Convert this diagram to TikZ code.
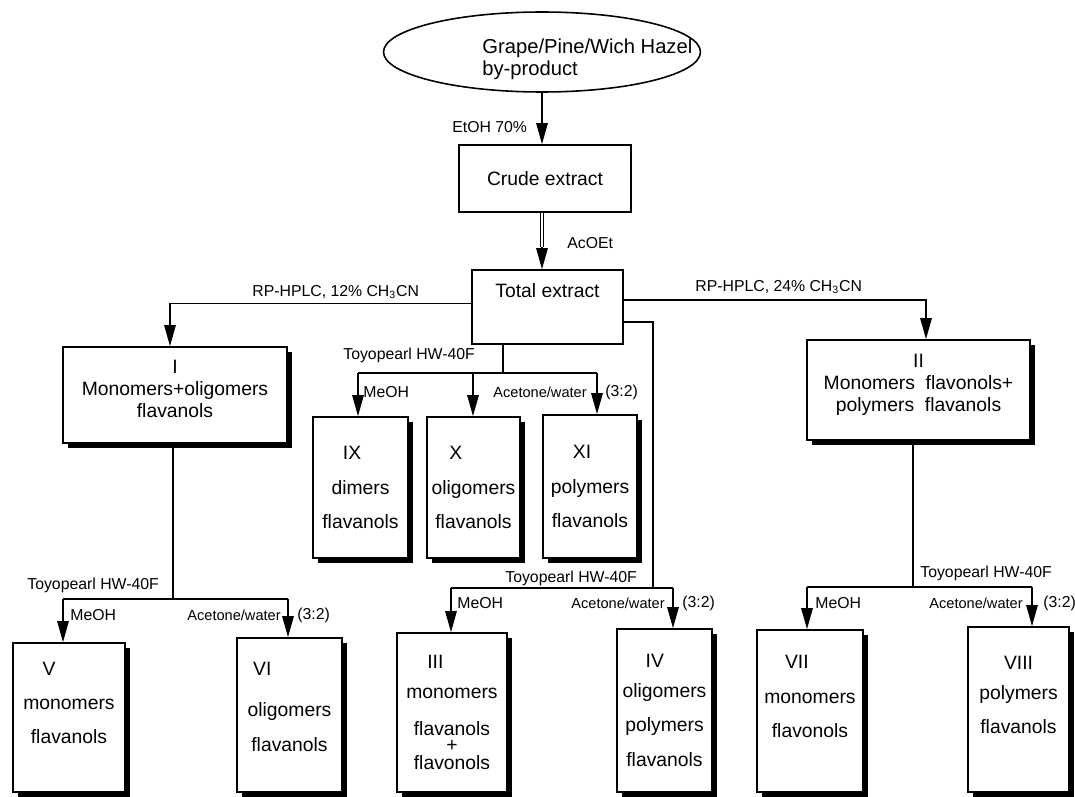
\documentclass[tikz,border=0pt]{standalone}
\usepackage{fontspec}
\setmainfont{Liberation Sans}
\usetikzlibrary{arrows.meta,shadows,shapes.geometric}
\tikzset{
	link/.style={line width=0.9pt},
	flow/.style={line width=0.9pt, -{Triangle[length=12pt,width=6.5pt]}},
	plainbox/.style={draw, line width=0.9pt, fill=white, align=center, inner sep=2pt, font=\fontsize{11}{12.5}\selectfont},
	shadbox/.style={plainbox, drop shadow={shadow xshift=3pt, shadow yshift=-3pt, fill=black, opacity=1}},
	tallbox/.style={shadbox, font=\fontsize{11}{19.5}\selectfont},
	cond/.style={inner sep=0pt, font=\fontsize{9}{10}\selectfont},
	condsm/.style={inner sep=0pt, font=\fontsize{8.3}{10}\selectfont}
}
\newcommand{\numshift}[2]{\hbox{#1\kern#2}}

\begin{document}
\begin{tikzpicture}[x=0.02cm, y=-0.02cm]
			%%%%% START %%%%%
			\useasboundingbox (0,0) rectangle (1075,797);

			% source and first extracts
			\node[ellipse, draw, line width=0.9pt, minimum width=6.34cm, minimum height=1.6cm, inner sep=0pt] (src) at (542,52) {};
			\node[anchor=west, align=left, inner sep=0pt, font=\fontsize{11.5}{12.5}\selectfont] (srctext) at (482,59) {Grape/Pine/Wich Hazel\\by-product};
			\node[plainbox, minimum width=3.44cm, minimum height=1.34cm] (crude) at (545,178.5) {Crude extract};
			\node[plainbox, minimum width=3.02cm, minimum height=1.48cm] (total) at (547.5,307) {Total extract\\[6pt]\mbox{}};

			% fractions
			\node[shadbox, minimum width=4.48cm, minimum height=1.92cm] (I) at (175,395) {I\\Monomers+oligomers\\flavanols\\[-5pt]\mbox{}};
			\node[shadbox, minimum width=4.46cm, minimum height=2.0cm] (II) at (918.5,390) {II\\Monomers~~flavonols+\\polymers~~flavanols\\[-4pt]\mbox{}};

			\node[tallbox, minimum width=1.9cm, minimum height=2.82cm] (IX) at (360.5,487.5) {\numshift{IX}{9.6pt}\\dimers\\flavanols};
			\node[tallbox, minimum width=1.86cm, minimum height=2.82cm] (X) at (473.5,487.5) {\numshift{X}{20pt}\\oligomers\\flavanols};
			\node[tallbox, minimum width=1.88cm, minimum height=2.86cm] (XI) at (590,486.5) {\numshift{XI}{9pt}\\polymers\\flavanols};

			\node[tallbox, minimum width=2.24cm, minimum height=2.98cm] (V) at (69,717.5) {\numshift{V}{22.7pt}\\monomers\\flavanols\\[-3pt]\mbox{}};
			\node[tallbox, minimum width=2.1cm, minimum height=3.08cm] (VI) at (289.5,715) {\numshift{VI}{31pt}\\[4pt]oligomers\\flavanols\\[-10pt]\mbox{}};
			\node[tallbox, minimum width=2.2cm, minimum height=3.18cm] (III) at (452,712.5) {\numshift{III}{19pt}\\[-2.5pt]monomers\\[1.5pt]flavanols\\[-10pt]+\\[-9.3pt]flavonols};
			\node[tallbox, minimum width=1.9cm, minimum height=3.26cm] (IV) at (664.5,710.5) {\numshift{IV}{11pt}\\[-2.5pt]oligomers\\polymers\\flavanols};
			\node[tallbox, minimum width=2.12cm, minimum height=3.24cm] (VII) at (810,711) {\numshift{VII}{15pt}\\monomers\\flavonols\\[-3pt]\mbox{}};
			\node[tallbox, minimum width=2.02cm, minimum height=3.3cm] (VIII) at (1018.5,709.5) {VIII\\[-2.5pt]polymers\\flavanols\\[-3pt]\mbox{}};

			% extraction steps
			\coordinate (ac) at (542,247);
			\draw[flow] (src.south) -- (src.south |- crude.north);
			\node[cond, anchor=west] (etoh) at (452,127) {EtOH 70\%};
			\draw[double, double distance=1.3pt, line width=0.7pt] (ac |- crude.south) -- (ac);
			\draw[flow] (ac) -- (ac |- total.north);
			\node[cond, anchor=west] (acoet) at (567,243) {AcOEt};

			% RP-HPLC
			\coordinate (c1) at (170,303);
			\coordinate (c2) at (926,300);
			\draw[flow] ([yshift=2pt]total.west) -| (c1 |- I.north);
			\draw[flow] ([yshift=4pt]total.east) -| (c2 |- II.north);
			\node[cond, anchor=west] (rp12) at (252,292) {RP-HPLC, 12\% CH\textsubscript{3}CN};
			\node[cond, anchor=west] (rp24) at (695,287) {RP-HPLC, 24\% CH\textsubscript{3}CN};

			% Toyopearl on total extract
			\coordinate (j1) at (503,373);
			\coordinate (b9) at (358,373);
			\coordinate (b10) at (473,373);
			\coordinate (b11) at (597,373);
			\draw[link] (j1 |- total.south) -- (j1);
			\draw[link] (b9) -- (b11);
			\draw[flow] (b9) -- (b9 |- IX.north);
			\draw[flow] (b10) -- (b10 |- X.north);
			\draw[flow] (b11) -- (b11 |- XI.north);
			\node[cond, anchor=west] (toyo1) at (343,355) {Toyopearl HW-40F};
			\node[cond, anchor=west] (meoh1) at (363,392) {MeOH};
			\node[condsm, anchor=east] (acw1) at (587,392) {Acetone/water};
			\node[cond, anchor=west] (rat1) at (605,392) {(3:2)};

			% Toyopearl on fraction I
			\coordinate (j2) at (173,599);
			\coordinate (b5) at (63,599);
			\coordinate (b6) at (288,599);
			\draw[link] (j2 |- I.south) -- (j2);
			\draw[link] (b5) -- (b6);
			\draw[flow] (b5) -- (b5 |- V.north);
			\draw[flow] (b6) -- (b6 |- VI.north);
			\node[cond, anchor=west] (toyo2) at (27,585) {Toyopearl HW-40F};
			\node[cond, anchor=west] (meoh2) at (70,615) {MeOH};
			\node[condsm, anchor=east] (acw2) at (281,615) {Acetone/water};
			\node[cond, anchor=west] (rat2) at (297,615) {(3:2)};

			% Toyopearl on total extract, second run
			\coordinate (j3) at (653,588);
			\coordinate (b3) at (451,588);
			\coordinate (b4) at (673,588);
			\draw[link] ([yshift=-8.5pt]total.east) -| (j3);
			\draw[link] (b3) -- (b4);
			\draw[flow] (b3) -- (b3 |- III.north);
			\draw[flow] (b4) -- (b4 |- IV.north);
			\node[cond, anchor=west] (toyo3) at (505,578) {Toyopearl HW-40F};
			\node[cond, anchor=west] (meoh3) at (457,603) {MeOH};
			\node[condsm, anchor=east] (acw3) at (665,603) {Acetone/water};
			\node[cond, anchor=west] (rat3) at (682,603) {(3:2)};

			% Toyopearl on fraction II
			\coordinate (j4) at (913,587);
			\coordinate (b7) at (807,587);
			\coordinate (b8) at (1032,587);
			\draw[link] (j4 |- II.south) -- (j4);
			\draw[link] (b7) -- (b8);
			\draw[flow] (b7) -- (b7 |- VII.north);
			\draw[flow] (b8) -- (b8 |- VIII.north);
			\node[cond, anchor=west] (toyo4) at (920,573) {Toyopearl HW-40F};
			\node[cond, anchor=west] (meoh4) at (815,603) {MeOH};
			\node[condsm, anchor=east] (acw4) at (1023,603) {Acetone/water};
			\node[cond, anchor=west] (rat4) at (1043,603) {(3:2)};
			%%%%% END %%%%%
\end{tikzpicture}
\end{document}
